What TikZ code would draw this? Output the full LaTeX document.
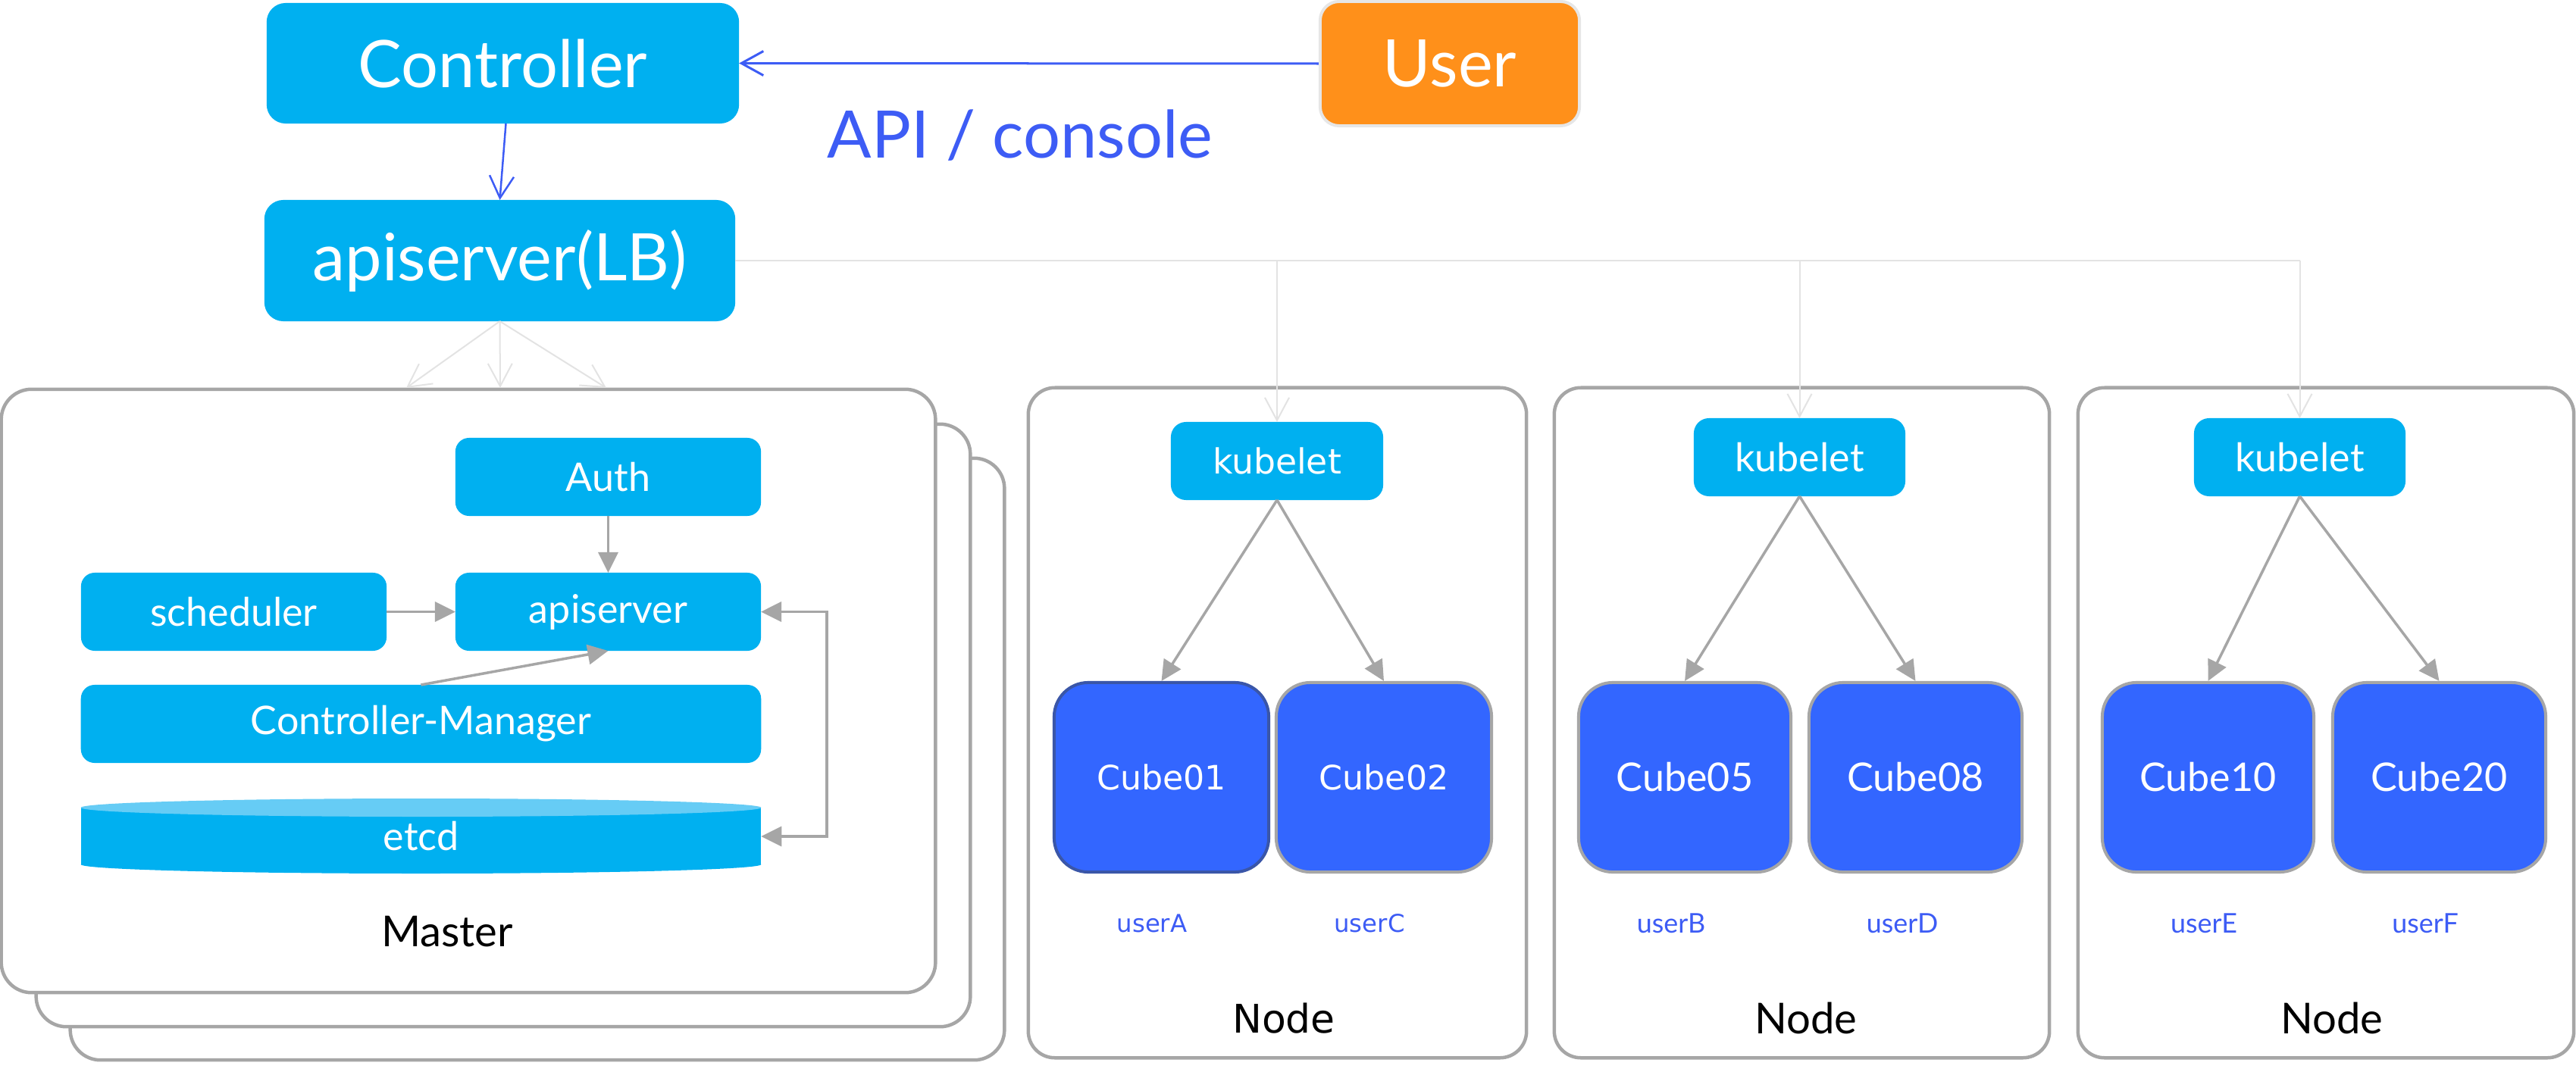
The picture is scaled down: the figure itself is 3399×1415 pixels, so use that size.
\documentclass[tikz,border=0pt]{standalone}
\usepackage{fontspec}
\setmainfont{Lato}
\newfontfamily\dvs{DejaVu Sans}
\usetikzlibrary{arrows.meta,calc}
\definecolor{sky}{HTML}{00B0F0}
\definecolor{skylight}{HTML}{66CCF5}
\definecolor{cubeblue}{HTML}{3366FF}
\definecolor{cubeedge}{HTML}{3A56A8}
\definecolor{txtblue}{HTML}{3D5CF5}
\definecolor{orng}{HTML}{FF901A}
\definecolor{bordergray}{HTML}{A6A6A6}
\definecolor{faint}{HTML}{E3E3E3}
\definecolor{userborder}{HTML}{E6E6E6}
\tikzset{
  fbig/.style={font=\fontsize{24.6pt}{29pt}\selectfont},
  fmid/.style={font=\fontsize{14.8pt}{18pt}\selectfont},
  fsmall/.style={font=\fontsize{10.2pt}{12pt}\selectfont},
  flabel/.style={font=\fontsize{16pt}{19pt}\selectfont},
  topbox/.style={fill=sky, rounded corners=0.25cm, text=white, fbig, inner sep=0pt, outer sep=0pt},
  innerbox/.style={fill=sky, rounded corners=0.18cm, text=white, fmid, inner sep=0pt, outer sep=0pt, minimum height=1.03cm},
  container/.style={draw=bordergray, line width=0.045cm, fill=white, rounded corners=0.4cm, inner sep=0pt},
  cubebox/.style={fill=cubeblue, draw=bordergray, line width=0.04cm, rounded corners=0.45cm, text=white, fmid, inner sep=0pt, minimum width=2.81cm, minimum height=2.50cm},
  userlbl/.style={text=txtblue, fsmall, inner sep=0pt},
  nodelbl/.style={text=black, flabel, inner sep=0pt},
  grayarrow/.style={draw=bordergray, line width=0.035cm, -{Triangle[length=0.27cm,width=0.26cm]}},
  bluearrow/.style={draw=txtblue, line width=0.025cm, -{Straight Barb[length=0.29cm,width=0.32cm]}},
  faintarrow/.style={draw=faint, line width=0.02cm, -{Straight Barb[length=0.3cm,width=0.32cm]}},
}
\begin{document}
\begin{tikzpicture}[x=0.01cm,y=-0.01cm]
\useasboundingbox (0,0) rectangle (3399,1415);

% top row
\node[topbox, minimum width=6.23cm, minimum height=1.59cm] (ctrl) at (663.5,83.5) {Controller};
\node[topbox, fill=orng, draw=userborder, line width=0.04cm, minimum width=3.42cm, minimum height=1.64cm, outer sep=0.02cm] (user) at (1913,84) {User};
\node[topbox, minimum width=6.21cm, minimum height=1.60cm] (apilb) at (659.5,344) {apiserver(LB)};
\node[text=txtblue, fbig, anchor=base, inner sep=0pt] (apicon) at (1346,208) {API / console};

\draw[bluearrow, line width=0.03cm] (user.west) -- (ctrl.east);
\draw[bluearrow] ([xshift=0.04cm]ctrl.south) -- (apilb.north);

% master stack
\node[container, minimum width=12.32cm, minimum height=7.94cm] (master3) at (709,1002) {};
\node[container, minimum width=12.32cm, minimum height=7.95cm] (master2) at (664,957.5) {};
\node[container, minimum width=12.32cm, minimum height=7.96cm] (master1) at (618,912) {};

\coordinate (mt1) at (536,512);
\coordinate (mt2) at (660,512);
\coordinate (mt3) at (800,512);
\draw[faintarrow] (apilb.south) -- (mt1);
\draw[faintarrow] (apilb.south) -- (mt2);
\draw[faintarrow] (apilb.south) -- (mt3);

\node[innerbox, minimum width=4.03cm] (auth) at (802.5,629.5) {Auth};
\node[innerbox, minimum width=4.03cm] (apis) at (802.5,807.5) {apiserver};
\node[innerbox, minimum width=4.03cm] (sched) at (308.5,807.5) {scheduler};
\node[innerbox, minimum width=8.97cm] (cm) at (555.5,955.5) {Controller-Manager};

% etcd cylinder
\fill[sky] (107,1066) rectangle (1004,1141);
\fill[sky] (555.5,1141) ellipse [x radius=4.485cm, y radius=0.12cm];
\fill[skylight] (555.5,1066) ellipse [x radius=4.485cm, y radius=0.12cm];
\node[text=white, fmid, inner sep=0pt, minimum width=8.97cm, minimum height=0.75cm, outer sep=0pt] (etcd) at (555.5,1104) {etcd};

\draw[grayarrow] (auth.south) -- (apis.north);
\draw[grayarrow] (sched.east) -- (apis.west);
\draw[grayarrow] (cm.north) -- (apis.south);
\draw[draw=bordergray, line width=0.035cm, {Triangle[length=0.27cm,width=0.26cm]}-{Triangle[length=0.27cm,width=0.26cm]}] (apis.east) -- ++(87,0) |- (etcd.east);

\node[nodelbl] (masterlbl) at (590,1230) {Master};

% worker nodes
\node[container, rounded corners=0.35cm, minimum width=6.57cm, minimum height=8.84cm] (node1) at (1685.5,954) {};
\node[container, rounded corners=0.35cm, minimum width=6.53cm, minimum height=8.84cm] (node2) at (2377.5,954) {};
\node[container, rounded corners=0.35cm, minimum width=6.54cm, minimum height=8.84cm] (node3) at (3069,954) {};

\node[innerbox, rounded corners=0.2cm, minimum width=2.80cm, font=\dvs\fontsize{13pt}{16pt}\selectfont] (kub1) at (1685,608.5) {kubelet};
\node[innerbox, rounded corners=0.2cm, minimum width=2.79cm] (kub2) at (2374.5,603.5) {kubelet};
\node[innerbox, rounded corners=0.2cm, minimum width=2.79cm] (kub3) at (3034.5,603.5) {kubelet};

% feeders from apiserver(LB)
\draw[draw=faint, line width=0.02cm] (apilb.east) -- (kub3.north |- apilb.east);
\draw[faintarrow] (kub1.north |- apilb.east) -- (kub1.north);
\draw[faintarrow] (kub2.north |- apilb.east) -- (kub2.north);
\draw[faintarrow] (kub3.north |- apilb.east) -- (kub3.north);

\node[cubebox, draw=cubeedge, minimum width=2.83cm, font=\dvs\fontsize{12.6pt}{15pt}\selectfont] (cube01) at (1532.5,1026) {Cube01};
\node[cubebox, minimum width=2.84cm, font=\dvs\fontsize{12.6pt}{15pt}\selectfont] (cube02) at (1826,1026) {Cube02};
\node[cubebox, minimum width=2.80cm] (cube05) at (2223,1026) {Cube05};
\node[cubebox, minimum width=2.81cm] (cube08) at (2527.5,1026) {Cube08};
\node[cubebox, minimum width=2.79cm] (cube10) at (2913.5,1026) {Cube10};
\node[cubebox, minimum width=2.81cm] (cube20) at (3218.5,1026) {Cube20};

\draw[grayarrow] (kub1.south) -- (cube01.north);
\draw[grayarrow] (kub1.south) -- (cube02.north);
\draw[grayarrow] (kub2.south) -- (cube05.north);
\draw[grayarrow] (kub2.south) -- (cube08.north);
\draw[grayarrow] (kub3.south) -- (cube10.north);
\draw[grayarrow] (kub3.south) -- (cube20.north);

\node[userlbl, font=\dvs\fontsize{9.2pt}{11pt}\selectfont] (ua) at (1520,1219) {userA};
\node[userlbl, font=\dvs\fontsize{9.2pt}{11pt}\selectfont] (uc) at (1807,1219) {userC};
\node[userlbl] (ub) at (2205,1219) {userB};
\node[userlbl] (ud) at (2510,1219) {userD};
\node[userlbl] (ue) at (2908,1219) {userE};
\node[userlbl] (uf) at (3200,1219) {userF};

\node[nodelbl, font=\dvs\fontsize{14.8pt}{18pt}\selectfont] (n1lbl) at (1694,1344) {Node};
\node[nodelbl] (n2lbl) at (2383,1344) {Node};
\node[nodelbl] (n3lbl) at (3077,1344) {Node};
\end{tikzpicture}
\end{document}
